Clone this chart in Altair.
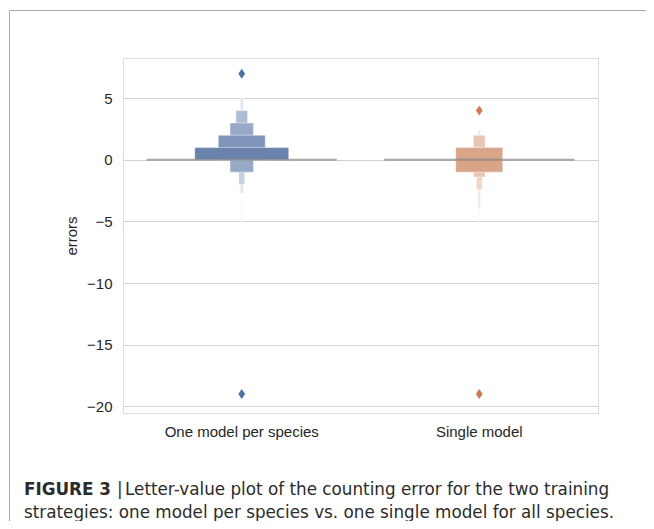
import altair as alt
import pandas as pd

# ---------------- data ----------------
categories = ["One model per species", "Single model"]

# letter-value boxes (depth 1 = widest box overall)
box_group = ["One model per species"] * 7 + ["Single model"] * 6
box_depth = [1, 2, 3, 4, 5, 6, 7, 2, 3, 4, 5, 6, 7]
box_lower = [0, 0, -1, -1, -2, -2.7, -5.0, -1, -1, -1.4, -2.4, -3.9, -5.0]
box_upper = [1, 2, 3, 4, 4, 5, 5.5, 1, 1, 2, 2, 2.4, 2.6]

median_group = ["One model per species", "Single model"]
median_value = [0, 0]

flier_group = ["One model per species", "One model per species", "Single model", "Single model"]
flier_value = [7, -19, 4, -19]

y_ticks = [-20, -15, -10, -5, 0, 5]

caption_bold = "FIGURE 3"
caption_bar = "|"
caption_line1 = "Letter-value plot of the counting error for the two training"
caption_line2 = "strategies: one model per species vs. one single model for all species."

# ---------------- styling helpers ----------------
base_rgb = {"One model per species": (88, 117, 164), "Single model": (204, 137, 99)}
flier_colors = ["#4f6fa8", "#cf7d50"]


def mix(rgb, t):
    r, g, b = (round(c * (1 - t) + 255 * t) for c in rgb)
    return f"#{r:02x}{g:02x}{b:02x}"


boxes = pd.DataFrame({
    "group": box_group,
    "depth": box_depth,
    "lower": box_lower,
    "upper": box_upper,
})
boxes["key"] = boxes["group"] + "|" + boxes["depth"].astype(str)
key_domain = list(boxes["key"])
key_range = [mix(base_rgb[g], 0.1 + (d - 1) * 0.14) for g, d in zip(box_group, box_depth)]
boxes = boxes.sort_values("depth", ascending=False)

medians = pd.DataFrame({"group": median_group, "value": median_value})
fliers = pd.DataFrame({"group": flier_group, "value": flier_value})

W, H = 475, 355
ydom = [-20.55, 8.27]
FONT = "Liberation Sans"
CAP_FONT = "DejaVu Sans"

x_enc = alt.X(
    "group:N",
    sort=categories,
    scale=alt.Scale(domain=categories, paddingInner=0, paddingOuter=0),
    axis=alt.Axis(title=None, labelAngle=0, labelFontSize=15, labelColor="#262626",
                  labelFont=FONT, labelPadding=11, ticks=False, domain=False, grid=False),
)
y_scale = alt.Scale(domain=ydom, nice=False, zero=False)

box_layer = alt.Chart(boxes).transform_calculate(
    wfrac="pow(0.5, datum.depth - 1)"
).mark_bar(stroke="white", strokeOpacity=0.45, strokeWidth=1).encode(
    x=x_enc,
    y=alt.Y("lower:Q", scale=y_scale,
            axis=alt.Axis(title="errors", values=y_ticks, labelFontSize=15, labelColor="#262626",
                          labelFont=FONT, titleFont=FONT, titleFontSize=15, titleFontWeight="normal",
                          titleColor="#262626", labelPadding=11, titlePadding=7, ticks=False,
                          domain=False, grid=True, gridColor="#d2d2d2", gridWidth=1)),
    y2="upper:Q",
    size=alt.Size("wfrac:Q", scale=alt.Scale(domain=[0, 1], range=[0, 94]), legend=None),
    color=alt.Color("key:N", scale=alt.Scale(domain=key_domain, range=key_range), legend=None),
    order=alt.Order("depth:Q", sort="descending"),
)

median_layer = alt.Chart(medians).mark_tick(color="#858585", thickness=2, size=190).encode(
    x=alt.X("group:N", sort=categories),
    y=alt.Y("value:Q", scale=y_scale),
)

flier_layer = alt.Chart(fliers).mark_point(
    shape="M0,-1L0.68,0L0,1L-0.68,0Z", filled=True, size=100, opacity=1
).encode(
    x=alt.X("group:N", sort=categories),
    y=alt.Y("value:Q", scale=y_scale),
    fill=alt.Fill("group:N", scale=alt.Scale(domain=categories, range=flier_colors), legend=None),
)

# outer figure frame (top and left edges)
frame_top = alt.Chart(pd.DataFrame({"a": [0]})).mark_rule(color="#a8a8a8", strokeWidth=1).encode(
    x=alt.value(-113.5), x2=alt.value(540), y=alt.value(-47.5)
)
frame_left = alt.Chart(pd.DataFrame({"a": [0]})).mark_rule(color="#a8a8a8", strokeWidth=1).encode(
    x=alt.value(-113.5), y=alt.value(-47.5), y2=alt.value(480)
)

cap_df = pd.DataFrame({"a": [0]})
cap_style = dict(font=CAP_FONT, fontSize=16.8, color="#2b2b2b", align="left", baseline="alphabetic")
cap1 = alt.Chart(cap_df).mark_text(text=caption_bold, fontWeight="bold", **cap_style).encode(
    x=alt.value(-99), y=alt.value(436.5))
cap2 = alt.Chart(cap_df).mark_text(text=caption_bar, **cap_style).encode(
    x=alt.value(-6), y=alt.value(436.5))
cap3 = alt.Chart(cap_df).mark_text(text=caption_line1, **cap_style).encode(
    x=alt.value(2), y=alt.value(436.5))
cap4 = alt.Chart(cap_df).mark_text(text=caption_line2, **cap_style).encode(
    x=alt.value(-99), y=alt.value(459.5))

chart = alt.layer(
    box_layer, median_layer, flier_layer, frame_top, frame_left, cap1, cap2, cap3, cap4
).resolve_scale(
    color="independent", fill="independent"
).properties(
    width=W, height=H,
    autosize=alt.AutoSizeParams(type="none"),
    padding={"left": 115, "top": 50, "right": 48, "bottom": 108},
).configure_view(
    stroke="#cccccc", strokeWidth=1
).configure(background="white")

chart.save("out.html", embed_options={"renderer": "svg", "actions": False})
